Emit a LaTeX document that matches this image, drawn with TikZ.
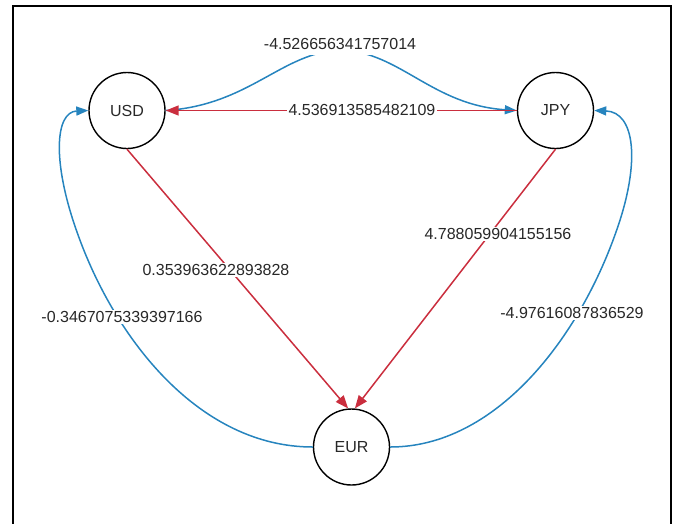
\documentclass[tikz,border=0pt]{standalone}
\usepackage{fontspec}
\setmainfont{Liberation Sans}
\usetikzlibrary{arrows.meta}
\definecolor{edgeblue}{RGB}{38,132,190}
\definecolor{edgered}{RGB}{202,46,62}
\definecolor{txt}{RGB}{40,40,40}
\begin{document}
\begin{tikzpicture}[x=1pt,y=-1pt,
  cur/.style={draw=black,line width=1.4pt,circle,minimum size=76pt,inner sep=0pt,
    text=txt,font=\fontsize{16}{19}\selectfont},
  lab/.style={fill=white,inner sep=1.5pt,text=txt,font=\fontsize{16}{19}\selectfont},
  blueedge/.style={draw=edgeblue,line width=1.5pt,-{Triangle[length=12pt,width=9pt]}},
  rededge/.style={draw=edgered,line width=1.5pt,-{Triangle[length=13pt,width=10pt]}},
  frameline/.style={draw=black,line width=2.2pt}
]
\useasboundingbox (0,0) rectangle (676,523);
\draw[frameline] (13,530) -- (13,6) -- (671,6) -- (671,530);

\node[cur] (USD) at (127,110.5) {USD};
\node[cur] (JPY) at (555.5,110.5) {JPY};
\node[cur] (EUR) at (351.5,447) {EUR};

% blue curve USD -> JPY over the top
\draw[blueedge] (USD.east) .. controls (250,105) and (282,52) .. (341,50)
  .. controls (400,52) and (432,105) .. (JPY.west);
% red straight JPY -> USD
\draw[rededge] (JPY.west) -- (USD.east);
% red USD -> EUR, JPY -> EUR
\draw[rededge] (USD.south) -- (EUR.95);
\draw[rededge] (JPY.south) -- (EUR.85);
% blue EUR -> USD (left loop)
\draw[blueedge] (EUR.west) .. controls (200,447) and (115,340) .. (77,232)
  .. controls (52,162) and (55,112) .. (USD.west);
% blue EUR -> JPY (right loop)
\draw[blueedge] (EUR.east) .. controls (495,447) and (578,340) .. (616,232)
  .. controls (641,162) and (635,112) .. (JPY.east);

% labels
\node[lab,inner ysep=5pt,inner xsep=4pt] (lUJ) at (340,44) {-4.526656341757014};
\node[lab] (lJU) at (362,110) {4.536913585482109};
\node[lab] (lUE) at (216,270) {0.353963622893828};
\node[lab] (lJE) at (498,234) {4.788059904155156};
\node[lab] (lEU) at (122,317) {-0.3467075339397166};
\node[lab] (lEJ) at (572,313) {-4.97616087836529};
\end{tikzpicture}
\end{document}
